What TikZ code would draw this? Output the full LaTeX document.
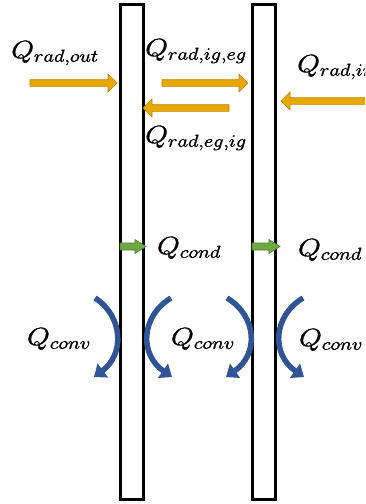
\documentclass[tikz,border=0pt]{standalone}
\usetikzlibrary{arrows.meta}
\definecolor{radfill}{HTML}{E8A800}
\definecolor{radedge}{HTML}{B98600}
\definecolor{condfill}{HTML}{6FA843}
\definecolor{condedge}{HTML}{4E7C30}
\definecolor{convblue}{HTML}{2F5597}
\tikzset{
  pane/.style={draw=black, line width=2.2pt, fill=white},
  radarrow/.style={fill=radfill, draw=radedge, line width=0.6pt, line join=miter},
  condarrow/.style={fill=condfill, draw=condedge, line width=0.6pt},
  convarrow/.style={draw=convblue, line width=5.5pt, -{Triangle[length=11pt,width=17pt]}},
  qlabel/.style={inner sep=0pt, font=\fontsize{24.5}{28}\selectfont},
}
% horizontal block arrow: tail x, head x, y, style, shaft half-height, head half-height, head length
\newcommand\blockarrow[7]{%
  \pgfmathsetmacro\bdir{sign(#2-#1)}%
  \path[#4] ({#1},{#3-#5}) -- ({#2-\bdir*#7},{#3-#5}) -- ({#2-\bdir*#7},{#3-#6})
    -- ({#2},{#3}) -- ({#2-\bdir*#7},{#3+#6}) -- ({#2-\bdir*#7},{#3+#5})
    -- ({#1},{#3+#5}) -- cycle;}
% flux symbols: slightly widened and set with a thin outline for a heavier stroke
\newcommand\qtext[1]{\special{pdf:literal direct 2 Tr 0.3 w}\scalebox{1.18}[1]{$#1$}\special{pdf:literal direct 0 Tr}}
\begin{document}
\begin{tikzpicture}[x=1pt, y=-1pt]
  \useasboundingbox (0,0) rectangle (365,504);
  \begin{scope}
    \clip (0,0) rectangle (365,504);
    % glazing panes
    \draw[pane] (120.5,4.5) rectangle (143.5,499.5);
    \draw[pane] (252.5,4.5) rectangle (275.5,499.5);
    % radiative exchange
    \blockarrow{30}{117}{83}{radarrow}{3.3}{9}{9}
    \blockarrow{162}{248}{83}{radarrow}{3.3}{9}{9}
    \blockarrow{229}{143}{108}{radarrow}{3.3}{9}{9}
    \blockarrow{372}{281}{101}{radarrow}{3.3}{9}{9}
    % conduction through the panes
    \blockarrow{120}{146}{246.5}{condarrow}{3.5}{7}{11}
    \blockarrow{252}{280}{246.5}{condarrow}{3.5}{7}{11}
    % convection at the pane surfaces
    \draw[convarrow] (95,298) .. controls (123,316) and (125,354) .. (94,377);
    \draw[convarrow] (171,298) .. controls (141,316) and (139,354) .. (172,377);
    \draw[convarrow] (227,298) .. controls (257,316) and (259,354) .. (226,377);
    \draw[convarrow] (303,298) .. controls (273,316) and (271,354) .. (304,377);
    % labels
    \node[qlabel, anchor=base] (qro) at (55,58) {\qtext{Q_{rad,out}}};
    \node[qlabel, anchor=base] (qrie) at (196,56) {\qtext{Q_{rad,ig,eg}}};
    \node[qlabel, anchor=base west] (qri) at (297,72) {\qtext{Q_{rad,in}}};
    \node[qlabel, anchor=base] (qrei) at (196,143) {\qtext{Q_{rad,eg,ig}}};
    \node[qlabel, anchor=base] (qc1) at (189,254) {\qtext{Q_{cond}}};
    \node[qlabel, anchor=base] (qc2) at (330,256) {\qtext{Q_{cond}}};
    \node[qlabel, anchor=base] (qv1) at (59,345) {\qtext{Q_{conv}}};
    \node[qlabel, anchor=base] (qv2) at (203,345) {\qtext{Q_{conv}}};
    \node[qlabel, anchor=base] (qv3) at (331,346) {\qtext{Q_{conv}}};
  \end{scope}
\end{tikzpicture}
\end{document}
